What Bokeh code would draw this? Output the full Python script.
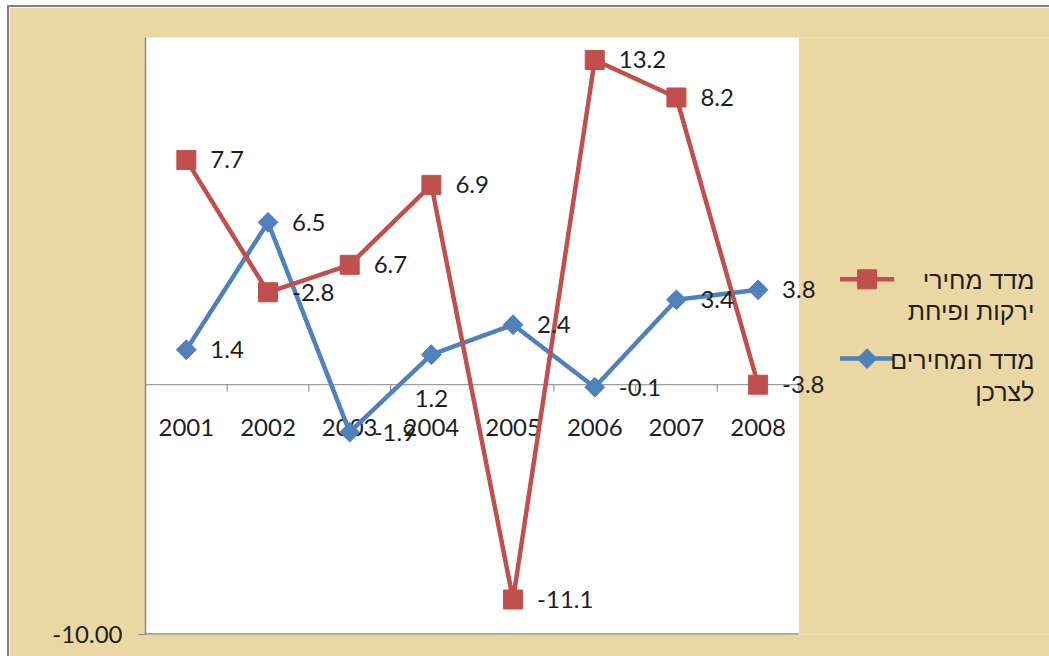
from bokeh.plotting import figure
from bokeh.models import Range1d, FixedTicker, NumeralTickFormatter, LinearAxis, ColumnDataSource
from bokeh.core.properties import value
from bokeh.embed import file_html
from bokeh.resources import INLINE

# ---------------- data ----------------
years = ["2001", "2002", "2003", "2004", "2005", "2006", "2007", "2008"]
blue_values = [1.4, 6.5, -1.9, 1.2, 2.4, -0.1, 3.4, 3.8]
blue_labels = ["1.4", "6.5", "-1.9", "1.2", "2.4", "-0.1", "3.4", "3.8"]
# red series as drawn on the chart's scale, with its own printed data labels
red_values = [9.0, 3.7, 4.8, 8.0, -8.6, 13.0, 11.5, 0.0]
red_labels = ["7.7", "-2.8", "6.7", "6.9", "-11.1", "13.2", "8.2", "-3.8"]
y_ticks = [-10]
legend_red = ["מדד מחירי", "ירקות ופיחת"]
legend_blue = ["מדד המחירים", "לצרכן"]

# ---------------- style ----------------
RED = "#C0504D"
BLUE = "#4F81BD"
GRID = "#868686"
BG = "#EAD7A3"
TXT = "#1e1e1e"
NUM_FONT = "Lato"
HEB_FONT = "Liberation Sans, DejaVu Sans"
FS = "24px"

# page placement: host at (7,5), 2px grey border top/left -> canvas at (9,7)
OX, OY = 9, 7
W, H = 1042, 651
CW, CH = W - 2, H - 2
FL, FT = 145 - OX, 37 - OY
FB = CH - FT - 595
PX_PER_CAT = 81.5          # plot area is 8 categories wide
Y0, Y1 = -10, 13.9         # plot-area value range
X0 = 0.5
PA_X1 = X0 + len(years)    # right edge of white plot area
fw = CW - FL
fh = CH - FT - FB
X1 = X0 + fw / PX_PER_CAT  # frame extends right to hold the legend
upx_y = (Y1 - Y0) / fh

def dx(px):  # page pixel -> data x
    return X0 + (px - 145) / PX_PER_CAT

def dy(py):  # page pixel -> data y
    return Y1 - (py - 37) * upx_y

xs = list(range(1, len(years) + 1))

p = figure(width=W, height=H, x_range=Range1d(X0, X1), y_range=Range1d(Y0, Y1),
           output_backend="svg", toolbar_location=None,
           x_axis_type=None, y_axis_type=None,
           min_border_left=FL, min_border_right=0, min_border_top=FT, min_border_bottom=FB,
           border_fill_color=BG, background_fill_color=BG, outline_line_color=None)
p.styles = {"margin-left": "7px", "margin-top": "5px",
            "border-top": "2px solid #808080", "border-left": "2px solid #808080"}

# white plot area
p.quad(left=[X0], right=[PA_X1], bottom=[Y0], top=[Y1], fill_color="white", line_color=None)

yaxis = LinearAxis(ticker=FixedTicker(ticks=y_ticks), formatter=NumeralTickFormatter(format="0.00"),
                   axis_line_color=GRID, axis_line_width=1.5, major_tick_line_color=GRID,
                   major_tick_out=7, major_tick_in=0,
                   minor_tick_line_color=None, major_label_text_font=NUM_FONT,
                   major_label_text_font_size=FS, major_label_text_color=TXT,
                   major_label_standoff=16)
p.add_layout(yaxis, "left")

# bottom edge of plot area and zero line
p.segment(x0=[X0, X0], y0=[Y0, 0], x1=[PA_X1, PA_X1], y1=[Y0, 0],
          line_color=GRID, line_width=[2.5, 1])

# category ticks on the zero line
bounds = [X0 + i for i in range(len(years) + 1)]
tick_len = 7 * upx_y
p.segment(x0=bounds, y0=[0] * len(bounds), x1=bounds, y1=[-tick_len] * len(bounds),
          line_color=GRID, line_width=1)

# category labels next to the zero line
p.text(x=xs, y=[0] * len(xs), text=years, y_offset=43, text_align="center",
       text_baseline="middle", text_font=value(NUM_FONT), text_font_size=FS, text_color=TXT)

# series
p.line(xs, blue_values, line_color=BLUE, line_width=4.5)
p.scatter(xs, blue_values, marker="square", angle=0.785398, size=14,
          fill_color=BLUE, line_color=BLUE)
p.line(xs, red_values, line_color=RED, line_width=4.5)
p.scatter(xs, red_values, marker="square", size=19, fill_color=RED, line_color=RED)

# data labels
blue_xoff = [24] * len(xs)
blue_yoff = [0] * len(xs)
blue_align = ["left"] * len(xs)
blue_xoff[3], blue_yoff[3], blue_align[3] = 0, 44, "center"
bsrc = ColumnDataSource(dict(x=xs, y=blue_values, t=blue_labels, xo=blue_xoff, yo=blue_yoff, al=blue_align))
p.text(x="x", y="y", text="t", x_offset="xo", y_offset="yo", text_align="al", source=bsrc,
       text_baseline="middle", text_font=value(NUM_FONT), text_font_size=FS, text_color=TXT)
p.text(x=xs, y=red_values, text=red_labels, x_offset=24, text_align="left",
       text_baseline="middle", text_font=value(NUM_FONT), text_font_size=FS, text_color=TXT)

# legend, right of the plot area
leg_y = [dy(278), dy(357)]
for yy, col in zip(leg_y, [RED, BLUE]):
    p.line([dx(838), dx(892)], [yy, yy], line_color=col, line_width=4.5)
p.scatter([dx(865)], [leg_y[0]], marker="square", size=19, fill_color=RED, line_color=RED)
p.scatter([dx(865)], [leg_y[1]], marker="square", angle=0.785398, size=14,
          fill_color=BLUE, line_color=BLUE)
leg_text = legend_red + legend_blue
leg_ty = [dy(279), dy(310), dy(358), dy(390)]
p.text(x=[dx(1032)] * 4, y=leg_ty, text=leg_text, text_align="right", text_baseline="middle",
       text_font=value(HEB_FONT), text_font_size="25px", text_color=TXT)

open("out.html", "w").write(file_html(p, INLINE))
